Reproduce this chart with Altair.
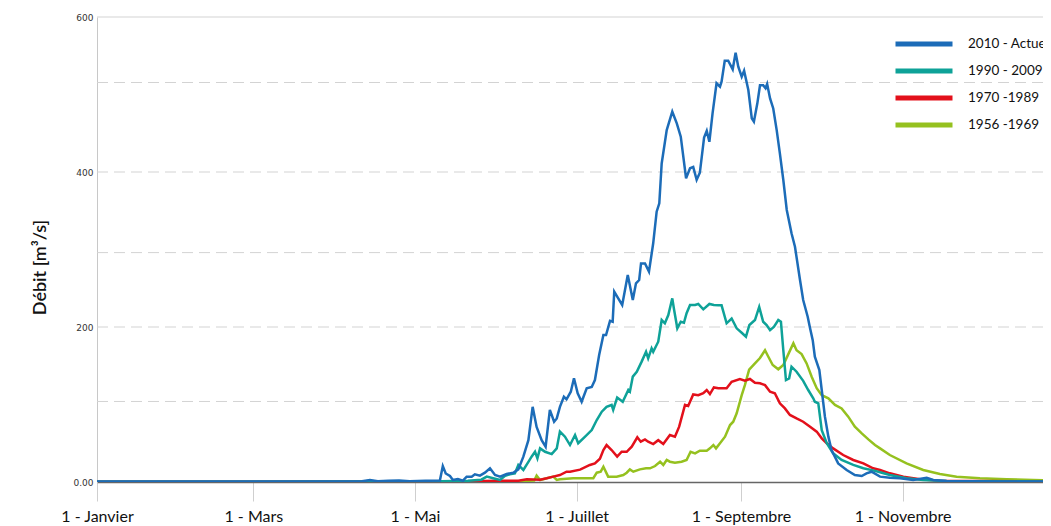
import altair as alt
import pandas as pd

# ---------------- data (day of year, discharge m3/s) ----------------
periods = ["2010 - Actuel", "1990 - 2009", "1970 -1989", "1956 -1969"]
colors = ["#1c6cb8", "#0ea298", "#e3101b", "#95c11f"]

blue_days = [0, 30, 60, 90, 100, 103, 106, 110, 114, 118, 124, 129.4, 130.5, 131.6, 133.2, 134.3, 136.2, 138.1,
             139.5, 141.4, 142.6, 144.5, 146.4, 148.3, 150.2, 152.1, 154.6, 157.1, 159.0, 160.9, 162.8, 164.4,
             165.9, 167.8, 169.3, 170.9, 172.5, 173.5, 174.7, 176.2, 177.2, 178.8, 180.0, 181.4, 182.9, 184.8,
             186.7, 187.9, 189.5, 191.1, 192.1, 193.6, 194.6, 195.2, 196.7, 198.2, 200.3, 202.2, 203.4, 204.6,
             205.3, 206.8, 208.3, 209.9, 211.2, 212.2, 213.1, 215.0, 217.1, 218.8, 220.3, 222.3, 223.8, 225.0,
             226.3, 227.5, 229.1, 230.1, 231.1, 232.3, 233.8, 235.1, 235.7, 236.9, 238.2, 239.9, 241.0, 242.0,
             243.3, 244.2, 245.8, 247.1, 247.9, 249.2, 250.2, 251.4, 252.3, 252.9, 254.0, 255.2, 256.5, 257.7,
             259.0, 260.3, 262.1, 263.4, 265.3, 266.5, 268.2, 269.1, 270.1, 270.9, 272.6, 273.5, 274.7, 276.0,
             277.2, 279.7, 282.9, 286.0, 288.6, 290.4, 292.3, 295.5, 299.2, 303.0, 308.0, 313.1, 315.6, 320.6,
             340, 364]
blue_vals = [0.5, 0.5, 0.5, 0.8, 1.0, 2.5, 1.0, 1.5, 2.0, 1.0, 1.5, 2.0, 20.6, 11, 7.7, 2.6, 3.9, 1.7,
             6.9, 6.9, 9.9, 8.2, 12, 17.6, 9, 6.9, 10.3, 12, 16.3, 32.7, 54, 97,
             71, 54, 45.6, 93, 77.8, 82, 97, 110, 106.7, 116.5, 133.8, 114.5, 103.6, 121,
             122.6, 131.6, 163.9, 189.7, 189.7, 208, 206.8, 245.6, 237, 228.4, 267, 234.8, 256.4, 260.6,
             282, 282, 271.4, 308, 348.8, 359.6, 411, 454, 477.8, 462.8, 445.6, 391.9, 404.8, 406.5,
             390, 399, 444.5, 453, 439, 475.7, 514.5, 510, 516.5, 543.6, 543.6, 532.5, 554, 535.9,
             523, 530.7, 505.8, 469.3, 465, 488.6, 512, 512, 508, 513.5, 495, 482, 454, 424,
             389.7, 351, 321, 303.6, 260.6, 234.8, 213.3, 198.3, 183, 161.7, 144.5, 118.7, 84.3, 58.5,
             41.3, 24, 15.5, 9, 7.7, 11.2, 13.3, 6.9, 5.5, 4.8, 2.6, 5.5, 2.6, 1.3,
             0.8, 0.5]

teal_days = [0, 100, 130, 140, 145, 147.1, 149.5, 152.1, 154.0, 155.8, 157.7, 159.0, 160.9, 162.8, 164.0,
             165.3, 166.2, 167.2, 169.1, 171.6, 173.5, 174.7, 176.6, 178.5, 180.4, 181.6, 184.2, 186.7, 188.6,
             190.5, 192.3, 194.2, 194.8, 196.3, 198.4, 200.5, 201.1, 202.2, 203.7, 205.5, 207.2, 208.0, 209.3,
             209.9, 211.8, 213.1, 214.3, 215.6, 217.1, 217.8, 219.0, 220.3, 221.5, 222.5, 223.8, 225.7, 226.9,
             228.8, 231.1, 232.8, 234.5, 235.7, 237.6, 239.5, 241.4, 243.3, 244.9, 246.2, 248.3, 249.9, 251.4,
             252.7, 254.0, 255.5, 257.1, 258.1, 259.0, 260.0, 261.2, 262.1, 264.0, 266.5, 268.4, 270.3, 270.9,
             272.2, 273.5, 275.4, 277.8, 281.0, 285.4, 289.2, 292.9, 295.5, 299.2, 305.5, 311.8, 320.6, 364]
teal_vals = [0.3, 0.5, 1, 1.5, 3, 6.9, 4.8, 2.6, 8, 10, 11, 22, 15.5, 26, 32.7,
             39, 30.5, 43.4, 39, 36, 43.4, 65, 58.5, 47.7, 60.6, 50, 58.5, 67, 80,
             90.7, 97, 99.4, 93, 109, 103.6, 118.7, 116.5, 136, 142.3, 155, 168, 159.6, 172.5,
             168, 181, 209, 204.8, 215.5, 237, 222, 198.3, 206.8, 205.5, 217.7, 228.4, 228.4, 229.7,
             222.8, 229.7, 228.4, 228, 228, 204.8, 211, 198.3, 192.6, 187.5, 202.6, 209, 226, 206.8,
             202.6, 196, 200.4, 209, 206.8, 170, 131.6, 133.8, 148.8, 142.3, 130.5, 118.7, 108, 103.6,
             101.5, 67, 50, 37, 28.4, 22, 17.7, 15, 12.5, 9, 4.8, 2.6, 1.3, 0.5]

red_days = [0, 100, 140, 152.1, 159, 162.2, 167.2, 169.7, 172.2, 174.7, 177.2, 178.5, 182.3, 186.0, 187.9,
            189.8, 191.1, 192.3, 194.2, 196.3, 198.0, 199.9, 201.8, 203.9, 205.2, 206.8, 208.0, 209.9, 211.8,
            213.7, 216.2, 218.1, 219.7, 221.9, 223.1, 225.0, 226.9, 228.8, 230.1, 231.3, 232.8, 234.5, 237.6,
            239.5, 242.6, 244.5, 246.4, 248.3, 250.2, 252.1, 254.0, 255.8, 257.7, 259.6, 261.5, 264.0, 266.5,
            269.1, 271.6, 273.5, 275.4, 277.8, 281.6, 285.4, 289.2, 292.9, 295.5, 299.2, 304.3, 310.6, 318.1, 364]
red_vals = [0.3, 0.5, 1, 1.7, 1.7, 3.5, 3, 4.8, 6.9, 9, 13.3, 13.3, 16, 22, 24,
            30, 41.3, 47.7, 41.3, 32.7, 39, 39, 45.6, 57.7, 52, 55, 52, 49, 54,
            49, 60.6, 58.5, 71.4, 99.4, 98, 113, 112, 114.5, 118.7, 113.5, 122, 121, 121,
            129.4, 132.9, 130.7, 132.9, 128, 127.4, 125, 116.5, 114.5, 101.5, 95, 86.5, 82, 77.8,
            71.4, 65, 56.3, 50, 43.4, 34.8, 28.4, 24, 17.7, 15.5, 11.2, 6.9, 3.5, 1.7, 0.5]

green_days = [0, 150, 160, 165, 165.9, 167.2, 172.2, 173.5, 174.7, 179.7, 181.0, 187.3, 188.6, 190.1, 191.1,
              192.9, 196.1, 198.6, 199.9, 201.1, 202.4, 204.9, 207.2, 208.7, 210.6, 212.5, 213.7, 215.0, 216.2,
              218.1, 220.6, 222.5, 224.0, 225.7, 227.5, 230.1, 231.3, 232.6, 233.6, 235.1, 237.0, 238.9, 240.1,
              241.4, 243.3, 244.5, 246.1, 248.3, 250.2, 252.1, 253.3, 255.0, 257.1, 259.0, 260.9, 262.8, 264.0,
              265.9, 267.8, 269.7, 271.6, 273.5, 276.0, 278.5, 281.0, 283.5, 286.0, 288.6, 291.1, 293.6, 295.5,
              299.2, 305.5, 311.8, 318.1, 324.4, 333.2, 343.3, 353.3, 364]
green_vals = [0.3, 0.5, 1, 2, 8.2, 2.6, 6.9, 2.6, 3.5, 4.8, 4.8, 4.8, 12, 13.3, 19.7,
              6.9, 6.9, 9, 12, 16.3, 13.3, 16.3, 17.7, 17.7, 20.6, 26.2, 22, 28.4, 26.2,
              24.9, 26.2, 28.4, 39, 37, 40.4, 40.4, 43.4, 47.7, 43.4, 50, 58.5, 73.5, 77.8,
              88.6, 112, 125, 145, 153, 160, 170, 162, 151, 145.4, 151, 165, 179, 170,
              165, 153, 135.9, 121, 112, 108, 99.4, 95, 84.3, 71.4, 62.8, 55, 47.7, 43.4,
              34.8, 24, 15.5, 10.3, 6.9, 4.8, 3.5, 2.6, 1.5]

month_ticks = [0, 59, 120, 181, 243, 304]
month_labels = ["1 - Janvier", "1 - Mars", "1 - Mai", "1 - Juillet", "1 - Septembre", "1 - Novembre"]
y_labels = [0, 200, 400, 600]
grid_vals = [103.9, 200, 296, 400, 515.5]

# ---------------- build tables ----------------
series = [(periods[0], blue_days, blue_vals), (periods[1], teal_days, teal_vals),
          (periods[2], red_days, red_vals), (periods[3], green_days, green_vals)]
rows = []
for name, ds, vs in series:
    for d, v in zip(ds, vs):
        rows.append({"period": name, "day": d, "q": v})
df = pd.DataFrame(rows)

label_expr = "''"
for t, l in reversed(list(zip(month_ticks, month_labels))):
    label_expr = f"datum.value == {t} ? '{l}' : ({label_expr})"

FONT = "Lato"
PLOT_W = 946
xscale = alt.Scale(domain=[0, 357], nice=False, zero=False)
yscale = alt.Scale(domain=[0, 600], nice=False)

yaxis = alt.Axis(
    values=y_labels, labelExpr="datum.value == 0 ? '0.00' : datum.label",
    title="Débit [m³/s]", titleFont=FONT, titleFontSize=18, titleFontWeight=600,
    titleColor="#111", titleAngle=-90, titleX=-57, titleY=250, titleAlign="center",
    titleBaseline="middle",
    grid=False, ticks=False, domainColor="#c8c8c8", domainWidth=1,
    labelFontSize=9, labelFont="DejaVu Sans", labelColor="#333", labelPadding=4)

xaxis = alt.Axis(
    values=month_ticks, labelExpr=label_expr, title=None, grid=False,
    domainColor="#666", domainWidth=1.5, tickColor="#cfcfcf", tickSize=19,
    tickWidth=1, labelFontSize=16, labelFont=FONT, labelColor="#111",
    labelPadding=7, labelFlush=False, labelOverlap=False)

grid = alt.Chart(pd.DataFrame({"g": grid_vals})).mark_rule(
    color="#d3d3d3", strokeWidth=1, strokeDash=[11, 6]
).encode(y=alt.Y("g:Q", scale=yscale, axis=yaxis))

top = alt.Chart(pd.DataFrame({"g": [600]})).mark_rule(
    color="#d3d3d3", strokeWidth=1
).encode(y=alt.Y("g:Q", scale=yscale, axis=yaxis))

color = alt.Color(
    "period:N",
    scale=alt.Scale(domain=periods, range=colors),
    legend=alt.Legend(
        title=None, orient="none", legendX=796, legendY=17,
        symbolType="stroke", symbolSize=3249, symbolStrokeWidth=5,
        clipHeight=20, rowPadding=7, labelFontSize=13.5, labelFont=FONT,
        labelColor="#111", labelOffset=13, labelLimit=300,
    ),
)

def layer(name):
    return alt.Chart(df).transform_filter(alt.datum.period == name).mark_line(
        strokeWidth=2.5, clip=True
    ).encode(
        x=alt.X("day:Q", scale=xscale, axis=xaxis),
        y=alt.Y("q:Q", scale=yscale, axis=yaxis),
        color=color,
    )

chart = alt.layer(
    grid, top,
    layer(periods[3]), layer(periods[2]), layer(periods[1]), layer(periods[0]),
).properties(
    width=PLOT_W, height=465,
    autosize=alt.AutoSizeParams(type="none"),
    padding={"left": 89, "top": 9, "right": 0, "bottom": 44},
).configure_view(stroke=None)

chart.save("out.html", embed_options={"renderer": "svg", "actions": False})
